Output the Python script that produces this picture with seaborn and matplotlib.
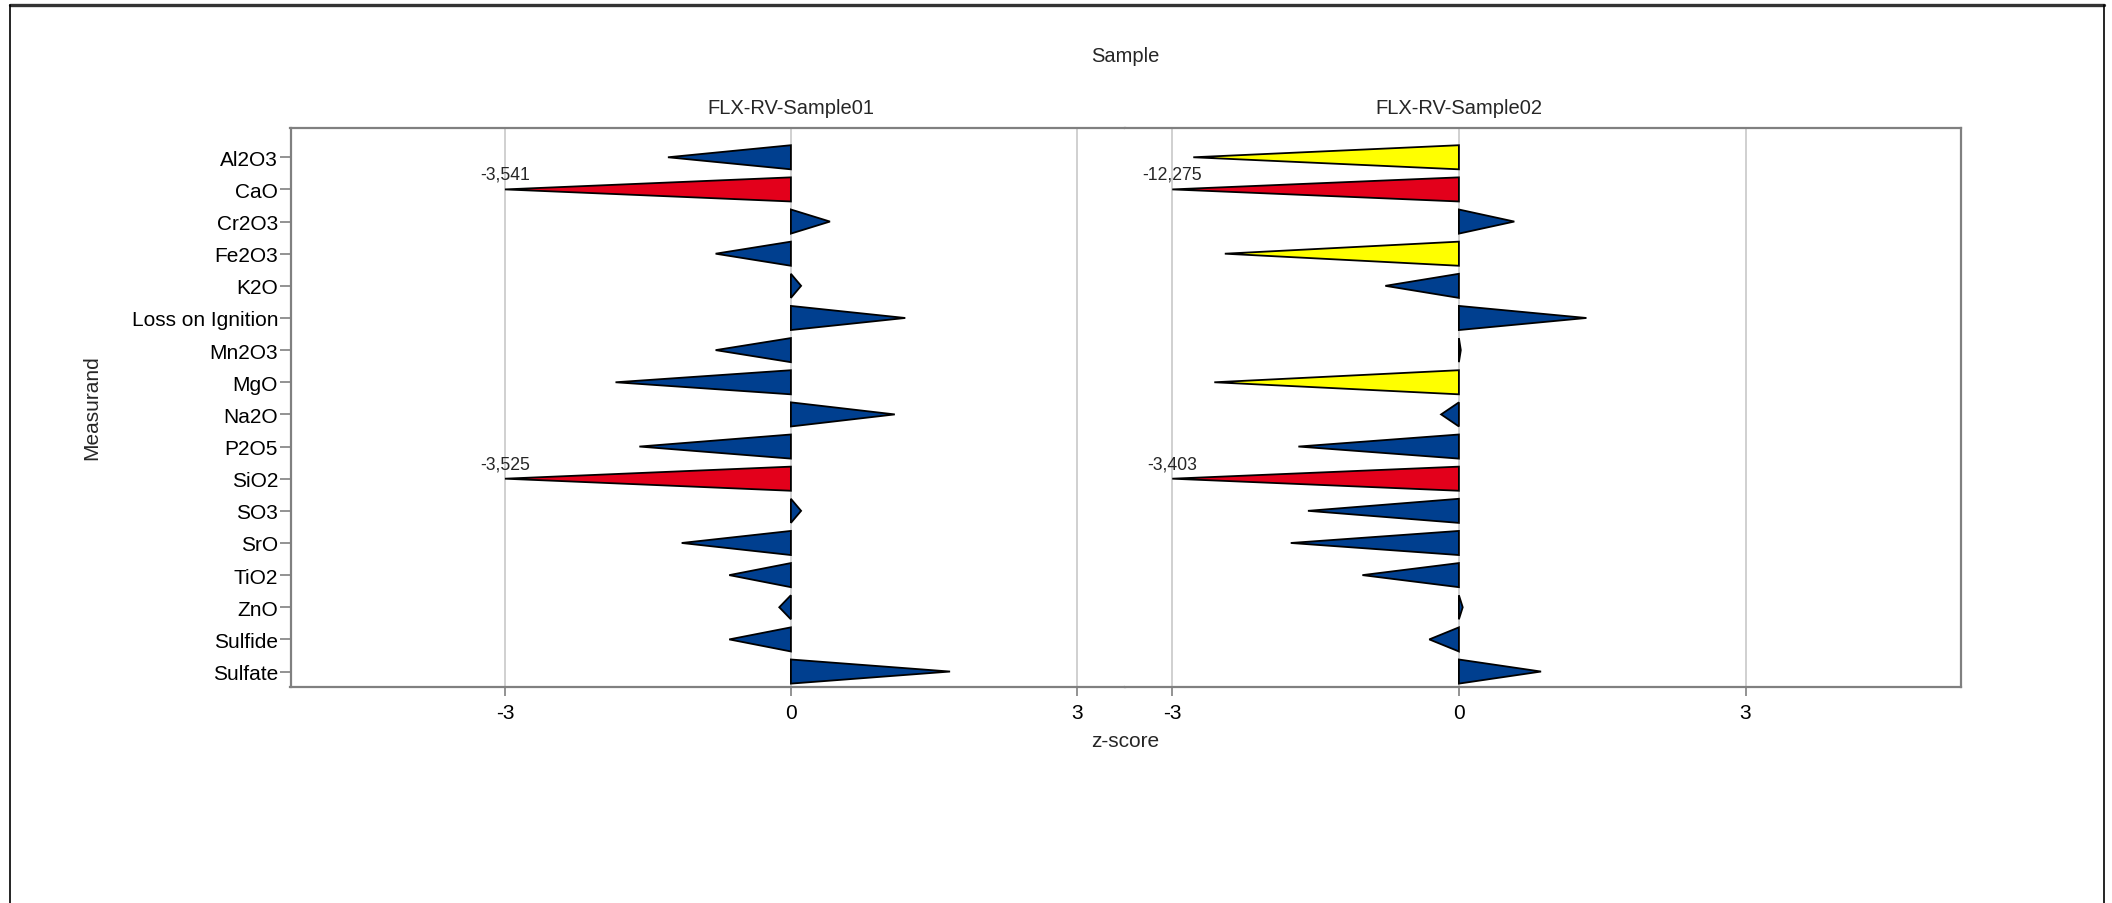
import numpy as np
import pandas as pd
import matplotlib
matplotlib.use('Agg')
import seaborn as sns
import matplotlib.pyplot as plt
import matplotlib.transforms as mtransforms
from matplotlib.patches import Polygon
from matplotlib.lines import Line2D

measurands = ['Al2O3', 'CaO', 'Cr2O3', 'Fe2O3', 'K2O', 'Loss on Ignition',
              'Mn2O3', 'MgO', 'Na2O', 'P2O5', 'SiO2', 'SO3', 'SrO', 'TiO2',
              'ZnO', 'Sulfide', 'Sulfate']
samples = ['FLX-RV-Sample01', 'FLX-RV-Sample02']
z_sample01 = [-1.29, -3.541, 0.41, -0.79, 0.107, 1.20, -0.79, -1.84, 1.09,
              -1.59, -3.525, 0.107, -1.146, -0.647, -0.122, -0.647, 1.67]
z_sample02 = [-2.78, -12.275, 0.58, -2.45, -0.77, 1.335, 0.02, -2.56, -0.186,
              -1.68, -3.403, -1.58, -1.76, -1.01, 0.04, -0.31, 0.86]
z_ticks = [-3, 0, 3]
clip_limit = 3.0
warn_limit = 2.0

col_ok = '#003f8f'
col_warn = '#ffff00'
col_bad = '#e3001b'
spine_col = '#808080'

sns.set_theme(style='white')
plt.rcParams['font.family'] = ['Liberation Sans', 'DejaVu Sans']

W, H = 2112., 904.
fig = plt.figure(figsize=(W / 100, H / 100), dpi=100)

ax_bottom = 1 - 688.3 / H
ax_height = 559.6 / H
ax1 = fig.add_axes([290.5 / W, ax_bottom, 834. / W, ax_height])
ax2 = fig.add_axes([1124.5 / W, ax_bottom, 836. / W, ax_height])

for ax, sample, zvals, xlim in zip([ax1, ax2], samples,
                                   [z_sample01, z_sample02],
                                   [(-5.25, 3.5), (-3.5, 5.25)]):
    df = pd.DataFrame({'Measurand': measurands,
                       'z': np.clip(zvals, -clip_limit, clip_limit)})
    sns.barplot(data=df, x='z', y='Measurand', orient='h', width=0.75,
                errorbar=None, ax=ax)

    # turn every bar into a wedge pointing at its value
    bars = list(ax.patches)
    for bar, z in zip(bars, zvals):
        y0, h = bar.get_y(), bar.get_height()
        base = bar.get_x()
        tip = base + bar.get_width()
        bar.remove()
        if abs(z) > clip_limit:
            fc = col_bad
        elif abs(z) > warn_limit:
            fc = col_warn
        else:
            fc = col_ok
        ax.add_patch(Polygon([(base, y0), (base, y0 + h), (tip, y0 + h / 2)],
                             closed=True, facecolor=fc, edgecolor='black',
                             linewidth=1.3, joinstyle='miter', zorder=3))
        if abs(z) > clip_limit:
            ax.text(tip, y0 + h / 2 - 0.2,
                    '{:.3f}'.format(z).replace('.', ','),
                    ha='center', va='bottom', fontsize=12.7, zorder=4)

    ax.set_xlim(*xlim)
    ax.set_ylim(len(measurands) - 0.51, -0.92)
    ax.set_xticks(z_ticks)
    ax.set_xticklabels([str(t) for t in z_ticks])
    ax.xaxis.grid(True, color='#c8c8c8', linewidth=1.2)
    ax.yaxis.grid(False)
    ax.set_axisbelow(True)
    ax.set_xlabel('')
    ax.set_ylabel('')

    for sp in ax.spines.values():
        sp.set_color(spine_col)
        sp.set_linewidth(1.6)

    ax.tick_params(axis='x', bottom=True, length=6.5, width=1.2,
                   color=spine_col, pad=5, labelsize=15, labelcolor='black')

    ax.text(0, 1 - 108.5 / H, sample, ha='center', va='center', fontsize=14.5,
            transform=mtransforms.blended_transform_factory(
                ax.transData, fig.transFigure))

ax1.spines['right'].set_visible(False)
ax2.spines['left'].set_visible(False)
ax1.tick_params(axis='y', left=True, length=8, width=1.2, color=spine_col,
                pad=1, labelsize=15, labelcolor='black')
ax2.tick_params(axis='y', left=False, labelleft=False)

fig.text(1125 / W, 1 - 57 / H, 'Sample', ha='center', va='center',
         fontsize=14.5)
fig.text(1125 / W, 1 - 741.7 / H, 'z-score', ha='center', va='center',
         fontsize=15)
fig.text(92 / W, 1 - 408 / H, 'Measurand', ha='center', va='center',
         rotation=90, fontsize=15)

# outer frame (open at the bottom)
fig.add_artist(Line2D([9.5 / W, 2103.5 / W], [1 - 5.5 / H] * 2,
                      color='#333333', linewidth=2.4,
                      transform=fig.transFigure))
for xf in [9.5 / W, 2103.5 / W]:
    fig.add_artist(Line2D([xf, xf], [0, 1 - 5.5 / H], color='black',
                          linewidth=1.2, transform=fig.transFigure))

fig.savefig('out.png', dpi=100)
